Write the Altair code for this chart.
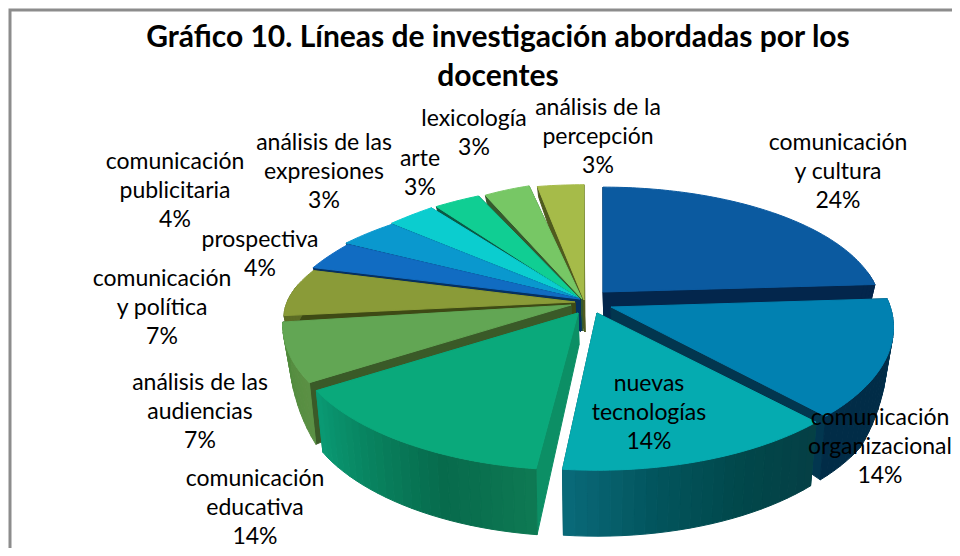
import math
import altair as alt
import numpy as np

# ---- data ----
categories = ["comunicación\ny cultura", "comunicación\norganizacional", "nuevas\ntecnologías",
              "comunicación\neducativa", "análisis de las\naudiencias", "comunicación\ny política",
              "prospectiva", "comunicación\npublicitaria", "análisis de las\nexpresiones",
              "arte", "lexicología", "análisis de la\npercepción"]
values = [24, 14, 14, 14, 7, 7, 4, 4, 3, 3, 3, 3]
top_colors = ["#0B5AA0", "#0181B1", "#05ABB0", "#0AA97B", "#62A654", "#8A9B38",
              "#116CC2", "#0A98CE", "#0BCDCF", "#10CE93", "#77C765", "#A6BB49"]
face_colors = ["#03264C", "#02364F", "#045058", "#0C8F65", "#3A5A28", "#3E4A15",
               "#053060", "#044A68", "#05606A", "#0A5A45", "#35592D", "#4F5A1E"]
wall_colors = [["#03264C", "#03264C"], ["#012C47", "#012C47", "#014A70"],
               ["#0A6A7A", "#02545C", "#01474A", "#053F45"],
               ["#0A9A74", "#08835F", "#076A4C", "#0E7A53"],
               ["#4F8A3C", "#5B9044"], ["#5C6C25", "#5C6C25"],
               ["#07407A", "#07407A"], ["#065B7C", "#065B7C"], ["#077B7C", "#077B7C"],
               ["#0A7B58", "#0A7B58"], ["#47773C", "#47773C"], ["#5F6B25", "#5F6B25"]]
title_lines = ["Gráfico 10. Líneas de investigación abordadas por los", "docentes"]

# ---- picture geometry of the 3-D pie (page pixels) ----
apex = [(603, 292), (611, 307), (597, 313), (578, 313), (571, 305), (575, 302),
        (580, 299), (580, 299), (580, 299), (580, 299), (582, 299), (584, 300)]
scale_x = [.965, .98, 1, 1, 1, 1.01, 1.03, 1.05, 1.07, 1.06, 1.05, 1]
scale_y = [.91, 1, 1, 1, 1, .8, None, None, None, None, None, 1]
back_v = [-.98, -.93, -.844, -.729, -.536, -.309]
back_sy = [1, .96, .93, .87, .85, .8]
edge_gap = [0, 0, 1.3, 0, 0, 0, .9, .9, .9, .9, .9, 0]
paint_order = [11, 10, 9, 8, 7, 6, 0, 5, 4, 1, 3, 2]
RX, RY, KX, KY = 285, 133, .15, .154
label_pos = [(838, 143), (880, 418), (649, 384), (255, 479), (200, 383), (162, 279),
             (260, 240), (175, 162), (324, 143), (420, 159), (474, 119), (598, 108)]
FRAME = [(10, 560), (10, 10), (960, 10)]


def rim(i, deg):
    t = math.radians(deg)
    u, v = math.sin(t), -math.cos(t)
    sy = scale_y[i] if scale_y[i] is not None else float(np.interp(v, back_v, back_sy))
    return (apex[i][0] + scale_x[i] * RX * u / (1 - KX * v),
            apex[i][1] + sy * RY * v / (1 - KY * v), v)


def height(v):
    return float(np.interp(v, [-1, -.3, 0, .125, .34, .54, 1], [10, 22, 30, 33, 45, 62, 66]))


def rim_low(i, deg):
    x, y, v = rim(i, deg)
    return (apex[i][0] + .975 * (x - apex[i][0]), y + height(v))


def hex2rgb(c):
    return np.array([int(c[k:k + 2], 16) for k in (1, 3, 5)], float)


def ramp(stops, f):
    p = f * (len(stops) - 1)
    k = min(int(p), len(stops) - 2)
    c = hex2rgb(stops[k]) * (1 - (p - k)) + hex2rgb(stops[k + 1]) * (p - k)
    return "#%02x%02x%02x" % tuple(int(round(a)) for a in c)


def poly(points, color):
    ring = [[float(p[0]), float(p[1])] for p in points]
    ring.append(ring[0])
    return {"type": "Feature", "geometry": {"type": "Polygon", "coordinates": [ring]},
            "properties": {"fill": color}}


edges = np.cumsum([0] + values) * 3.6
features = []
for i in paint_order:
    a, b = edges[i], edges[i + 1] - edge_gap[i]
    top_apex, low_apex = apex[i], (apex[i][0] + 1, apex[i][1] + 32)
    for d in (a, b):
        features.append(poly([top_apex, rim(i, d)[:2], rim_low(i, d), low_apex], face_colors[i]))
    steps = max(int((b - a) / 2), 2)
    ds = np.linspace(a, b, steps + 1)
    for k in range(steps):
        if rim(i, ds[k])[2] < -.15 and rim(i, ds[k + 1])[2] < -.15:
            continue
        features.append(poly([rim(i, ds[k])[:2], rim(i, ds[k + 1])[:2],
                              rim_low(i, ds[k + 1]), rim_low(i, ds[k])],
                             ramp(wall_colors[i], 1 - (k + .5) / steps if rim(i, a)[0] > rim(i, b)[0] else (k + .5) / steps)))
    arc = [rim(i, d)[:2] for d in np.linspace(a, b, max(int((b - a)), 3) + 1)]
    features.append(poly([top_apex] + arc, top_colors[i]))

projection = dict(type="identity", scale=1, translate=[-8, -8])

frame = alt.Chart(alt.Data(values=[{"type": "Feature", "properties": {},
                                    "geometry": {"type": "LineString",
                                                 "coordinates": [list(p) for p in FRAME]}}])
                  ).mark_geoshape(filled=False, stroke="#8C8C8C", strokeWidth=3)

pie = alt.Chart(alt.Data(values=features)).mark_geoshape(strokeWidth=1).encode(
    fill=alt.Fill("properties.fill:N", scale=None, legend=None),
    stroke=alt.Stroke("properties.fill:N", scale=None, legend=None))

labels = alt.Chart(alt.Data(values=[
    {"label": f"{c}\n{v}%", "px": p[0] - 8, "py": p[1] - 8}
    for c, v, p in zip(categories, values, label_pos)])).mark_text(
    font="Lato", fontSize=23, lineBreak="\n", lineHeight=29, align="center",
    baseline="middle", color="#000000").encode(
    x=alt.X("px:Q", scale=None, axis=None), y=alt.Y("py:Q", scale=None, axis=None),
    text="label:N")

chart = alt.layer(frame, pie, labels).project(**projection).properties(
    width=944, height=540,
    padding=0,
    autosize=alt.AutoSizeParams(type="none"),
    title=alt.TitleParams(text=title_lines, font="Lato", fontSize=30, fontWeight="bold",
                          color="#000000", lineHeight=39, anchor="middle", dx=18, dy=86, offset=2),
).configure_view(stroke=None)

chart.save("out.html", embed_options={"renderer": "svg", "actions": False})
